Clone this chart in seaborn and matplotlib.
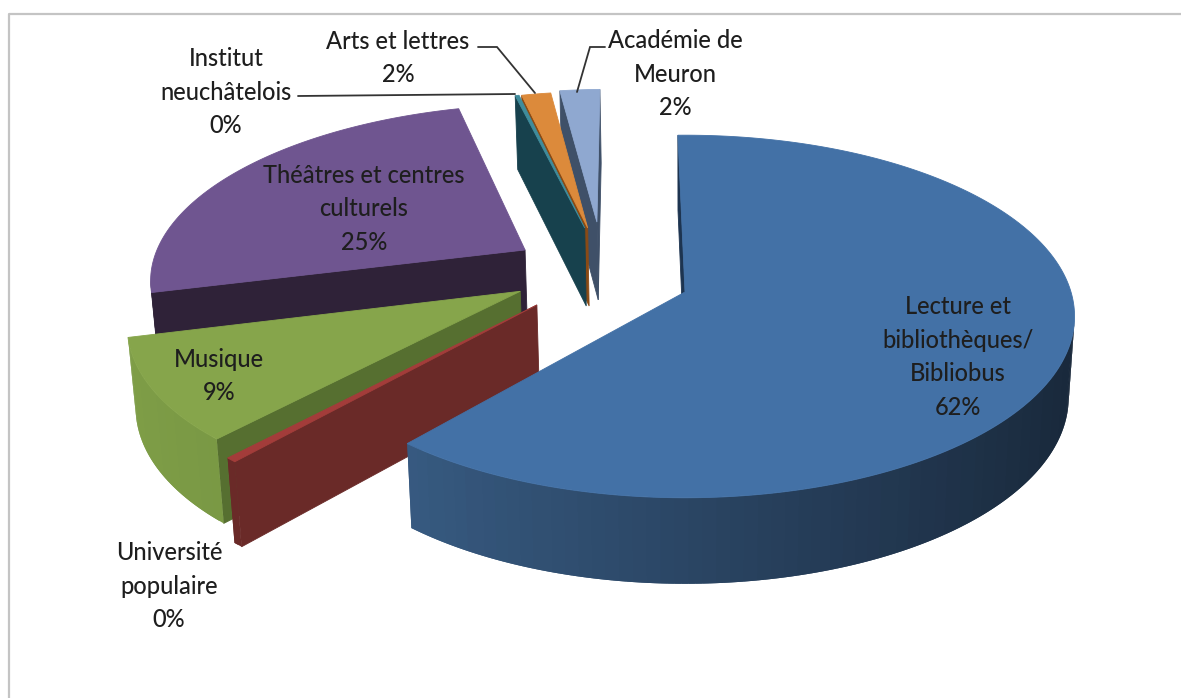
import numpy as np
import matplotlib.pyplot as plt
import seaborn as sns

# data
categories = ["Lecture et\nbibliothèques/\nBibliobus", "Université\npopulaire", "Musique",
              "Théâtres et centres\nculturels", "Institut\nneuchâtelois", "Arts et lettres",
              "Académie de\nMeuron"]
values = [61.5, 0.4, 9.4, 24.9, 0.2, 1.5, 2.1]

# look of each slice: top colour, cut face, wall colours (left, right)
top_cols = ["#4371a6", "#a33c3a", "#86a54b", "#6f5590", "#3f8c9c", "#dc8a3b", "#8fa8d0"]
face_cols = ["#1d3450", "#6a2a28", "#566f30", "#2f2238", "#17414d", "#8a4a14", "#3f5068"]
wall_left = ["#3d648f", "#6a2a28", "#7f9e47", "#2f2238", "#17414d", "#8a4a14", "#3f5068"]
wall_right = ["#182739", "#6a2a28", "#5f7d36", "#2f2238", "#17414d", "#8a4a14", "#3f5068"]
# explosion of each slice on the pie plane, radius of each slice
explode = [(0, 0), (-0.38, -0.072), (-0.427, 0.004), (-0.428, 0.244),
           (-0.273, 0.378), (-0.265, 0.378), (-0.241, 0.415)]
radius = [1, 1.012, 1, 0.985, 0.95, 0.95, 0.93]
draw_order = [3, 6, 5, 4, 2, 1, 0]
start_angle = -1.2

# label centres in pixels
label_pos = [(958, 357), (169, 586), (219, 376), (364, 209), (226, 92), (398, 58), (675, 74)]
leaders = [([298, 515], [96, 94]),
           ([478, 497, 535], [47, 47, 93]),
           ([605, 590, 577], [47, 47, 92])]

# projection of the pie plane (perspective, seen from above)
cx, cy = 685, 292
a, b, k = 386, 178, 0.135
depth = 80


def project(X, Y, z=0):
    w = 1 + k * Y
    x = cx + a * X / w * (1 - 0.015 * z)
    y = cy - b * Y / w + z * depth / np.sqrt(w)
    return x, y


sns.set_theme(style="white")
plt.rcParams['font.family'] = ['Lato', 'DejaVu Sans']

fig = plt.figure(figsize=(11.81, 6.98), dpi=100)
ax = fig.add_axes([0, 0, 1, 1])
ax.set_xlim(0, 1181)
ax.set_ylim(698, 0)
ax.axis('off')

# frame of the chart area
ax.plot([8.5, 8.5, 1181], [698, 13.5, 13.5], color='#c4c4c4', lw=1.6)

edges = start_angle + np.cumsum([0] + values) * 3.6


def wall(p, q, col, lw=0.6):
    xs = [p[0], q[0], project(*q[2:], 1)[0], project(*p[2:], 1)[0]]
    ys = [p[1], q[1], project(*q[2:], 1)[1], project(*p[2:], 1)[1]]
    ax.fill(xs, ys, color=col, lw=lw, ec=col if lw else 'none')


for i in draw_order:
    th = np.radians(np.linspace(edges[i], edges[i + 1], max(3, int(values[i] * 4))))
    ox, oy = explode[i]
    X = ox + radius[i] * np.sin(th)
    Y = oy + radius[i] * np.cos(th)
    sx, sy = project(X, Y)
    ax_x, ax_y = project(ox, oy)
    arc = [(sx[j], sy[j], X[j], Y[j]) for j in range(len(th))]
    apex = (ax_x, ax_y, ox, oy)

    # the start cut, then the end cut, then the rim: only edges running left face the viewer
    if arc[0][0] < apex[0]:
        wall(apex, arc[0], face_cols[i])
    if apex[0] < arc[-1][0]:
        wall(arc[-1], apex, face_cols[i])
    pal = sns.blend_palette([wall_left[i], wall_right[i]], n_colors=64)
    for j in range(len(arc) - 1):
        if arc[j + 1][0] < arc[j][0]:
            t = (np.sin(th[j]) + 1) / 2
            # each facet runs under the next one so no seams show
            wall(arc[j], arc[min(j + 2, len(arc) - 1)], pal[int(t * 63)], lw=0)
    ax.fill(np.r_[ax_x, sx], np.r_[ax_y, sy], color=top_cols[i], lw=0.6, ec=top_cols[i])

for xs, ys in leaders:
    ax.plot(xs, ys, color='#333333', lw=1.3, solid_joinstyle='miter')

for name, v, (lx, ly) in zip(categories, values, label_pos):
    ax.text(lx, ly, f"{name}\n{round(v)}%", ha='center', va='center', fontsize=17,
            fontweight='medium', color='#1e1e1e', linespacing=1.55)

fig.savefig('out.png', dpi=100)
